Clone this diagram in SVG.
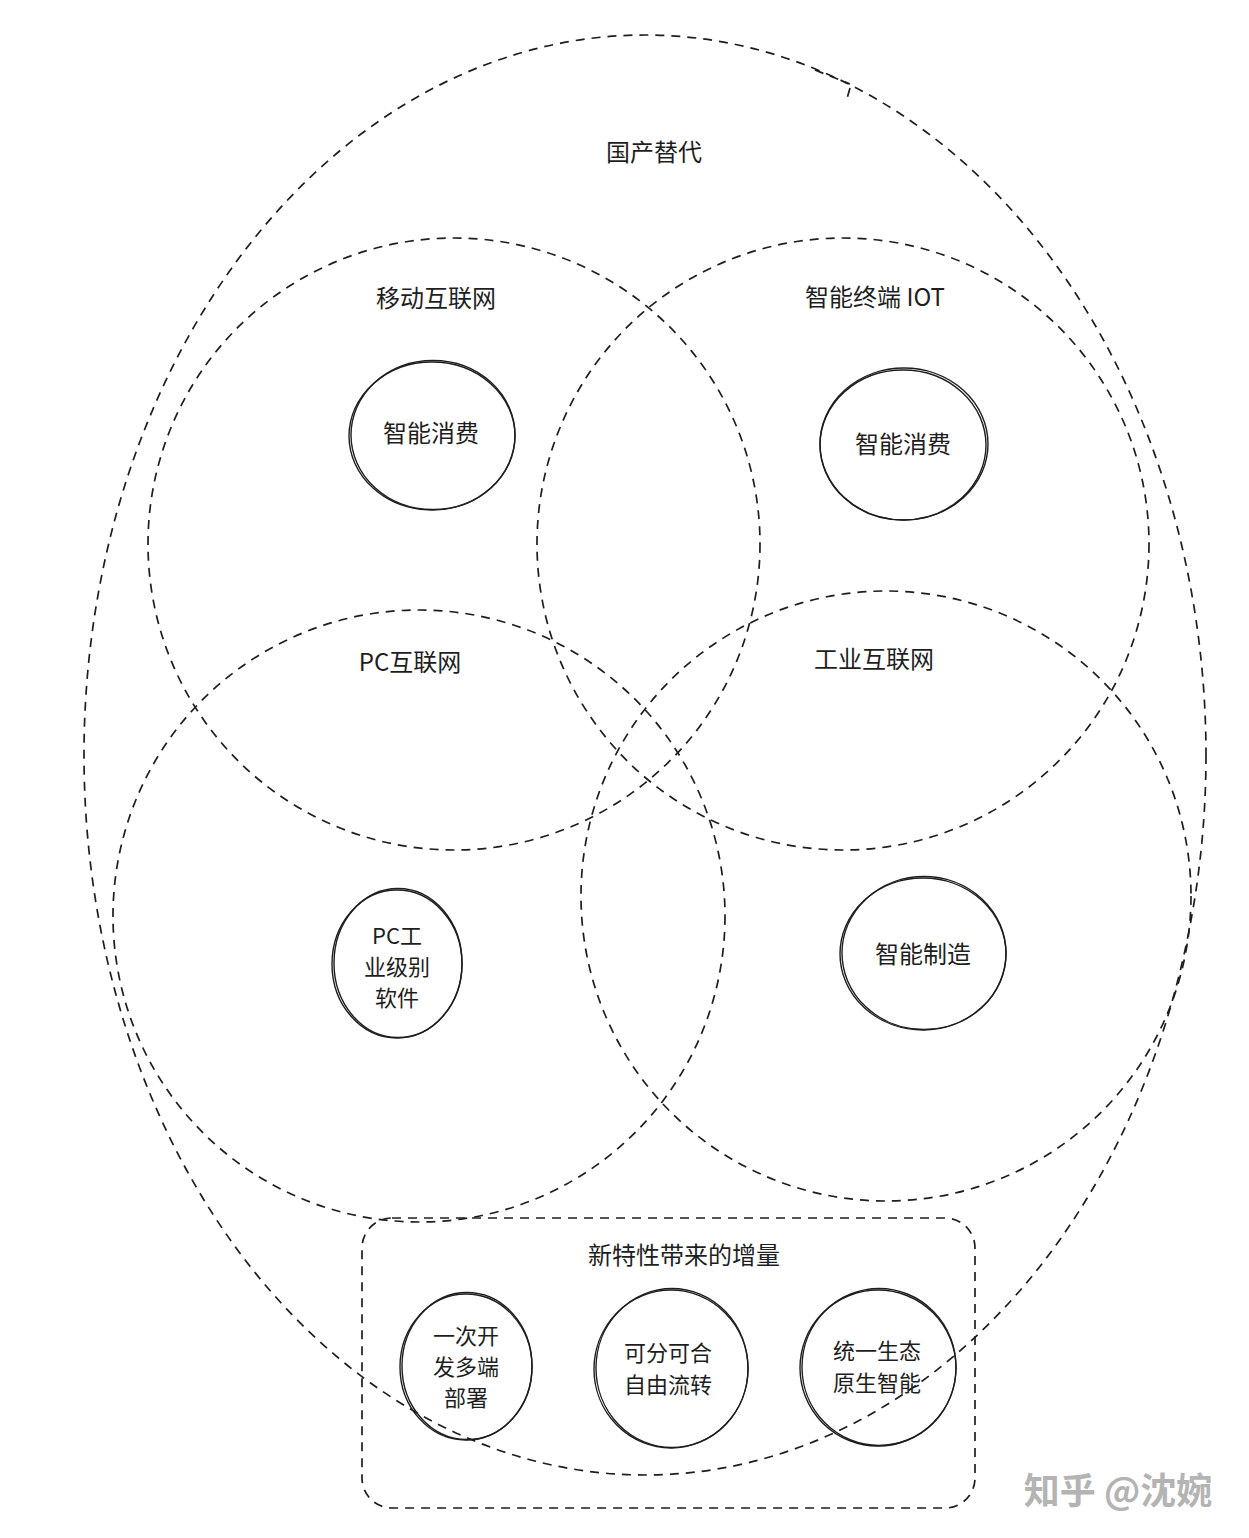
<svg xmlns="http://www.w3.org/2000/svg" width="1249" height="1538" viewBox="0 0 1249 1538">
<style>
.dash{fill:none;stroke:#1e1e1e;stroke-width:1.7;stroke-dasharray:9 7;}
.solid{fill:none;stroke:#1e1e1e;stroke-width:1.4;}
.t{font-family:"Noto Sans CJK SC","Noto Sans",sans-serif;font-size:24px;fill:#1e1e1e;text-anchor:middle;dominant-baseline:central;}
.m{font-size:22px;}
.wm{font-family:"Noto Sans CJK SC","Noto Sans",sans-serif;font-size:36px;fill:#b4b4b4;text-anchor:middle;dominant-baseline:central;font-weight:bold;}
</style>
<rect width="1249" height="1538" fill="#ffffff"/>
<g id="connectors"></g>
<g id="guochan">
<ellipse class="dash" cx="645" cy="755" rx="561" ry="720"/>
<path class="dash" d="M815 70 L850 84 M850 88 L846 102"/>
<text class="t" x="654" y="150">国产替代</text>
</g>
<g id="yidong">
<circle class="dash" cx="454" cy="544" r="306"/>
<text class="t" x="436" y="296">移动互联网</text>
</g>
<g id="iot">
<circle class="dash" cx="843" cy="544" r="306"/>
<text class="t" x="875" y="295">智能终端 IOT</text>
</g>
<g id="pc">
<circle class="dash" cx="419" cy="916" r="306"/>
<text class="t" x="410" y="660">PC互联网</text>
</g>
<g id="gongye">
<circle class="dash" cx="886" cy="896" r="305"/>
<text class="t" x="874" y="657">工业互联网</text>
</g>
<g id="xiaofei1">
<ellipse class="solid" cx="432" cy="436" rx="83" ry="74"/>
<ellipse class="solid" cx="433" cy="435" rx="82" ry="74.5"/>
<text class="t" x="431" y="431">智能消费</text>
</g>
<g id="xiaofei2">
<ellipse class="solid" cx="904" cy="444" rx="84" ry="76"/>
<ellipse class="solid" cx="903" cy="445" rx="83" ry="75"/>
<text class="t" x="903" y="442">智能消费</text>
</g>
<g id="pcsoft">
<ellipse class="solid" cx="397" cy="964" rx="65" ry="74"/>
<ellipse class="solid" cx="398" cy="963" rx="64" ry="74.5"/>
<text class="t m" x="397" y="934">PC工</text>
<text class="t m" x="397" y="965">业级别</text>
<text class="t m" x="397" y="996">软件</text>
</g>
<g id="zhizao">
<ellipse class="solid" cx="923" cy="954" rx="83" ry="76"/>
<ellipse class="solid" cx="924" cy="953" rx="82" ry="76.5"/>
<text class="t" x="923" y="952">智能制造</text>
</g>
<g id="zengliang">
<rect class="dash" x="362" y="1218" width="613" height="290" rx="30" ry="30"/>
<text class="t" x="684" y="1253">新特性带来的增量</text>
</g>
<g id="yici">
<ellipse class="solid" cx="466" cy="1367" rx="66" ry="73"/>
<ellipse class="solid" cx="467" cy="1366" rx="65" ry="73.5"/>
<text class="t m" x="466" y="1334">一次开</text>
<text class="t m" x="466" y="1365">发多端</text>
<text class="t m" x="466" y="1396">部署</text>
</g>
<g id="kefen">
<ellipse class="solid" cx="671" cy="1369" rx="77" ry="79"/>
<ellipse class="solid" cx="672" cy="1368" rx="76" ry="79.5"/>
<text class="t m" x="668" y="1351">可分可合</text>
<text class="t m" x="668" y="1383">自由流转</text>
</g>
<g id="tongyi">
<ellipse class="solid" cx="878" cy="1368" rx="78" ry="78"/>
<ellipse class="solid" cx="879" cy="1367" rx="77" ry="78.5"/>
<text class="t m" x="877" y="1349">统一生态</text>
<text class="t m" x="877" y="1381">原生智能</text>
</g>
<text class="wm" x="1118" y="1488">知乎 @沈婉</text>
</svg>
